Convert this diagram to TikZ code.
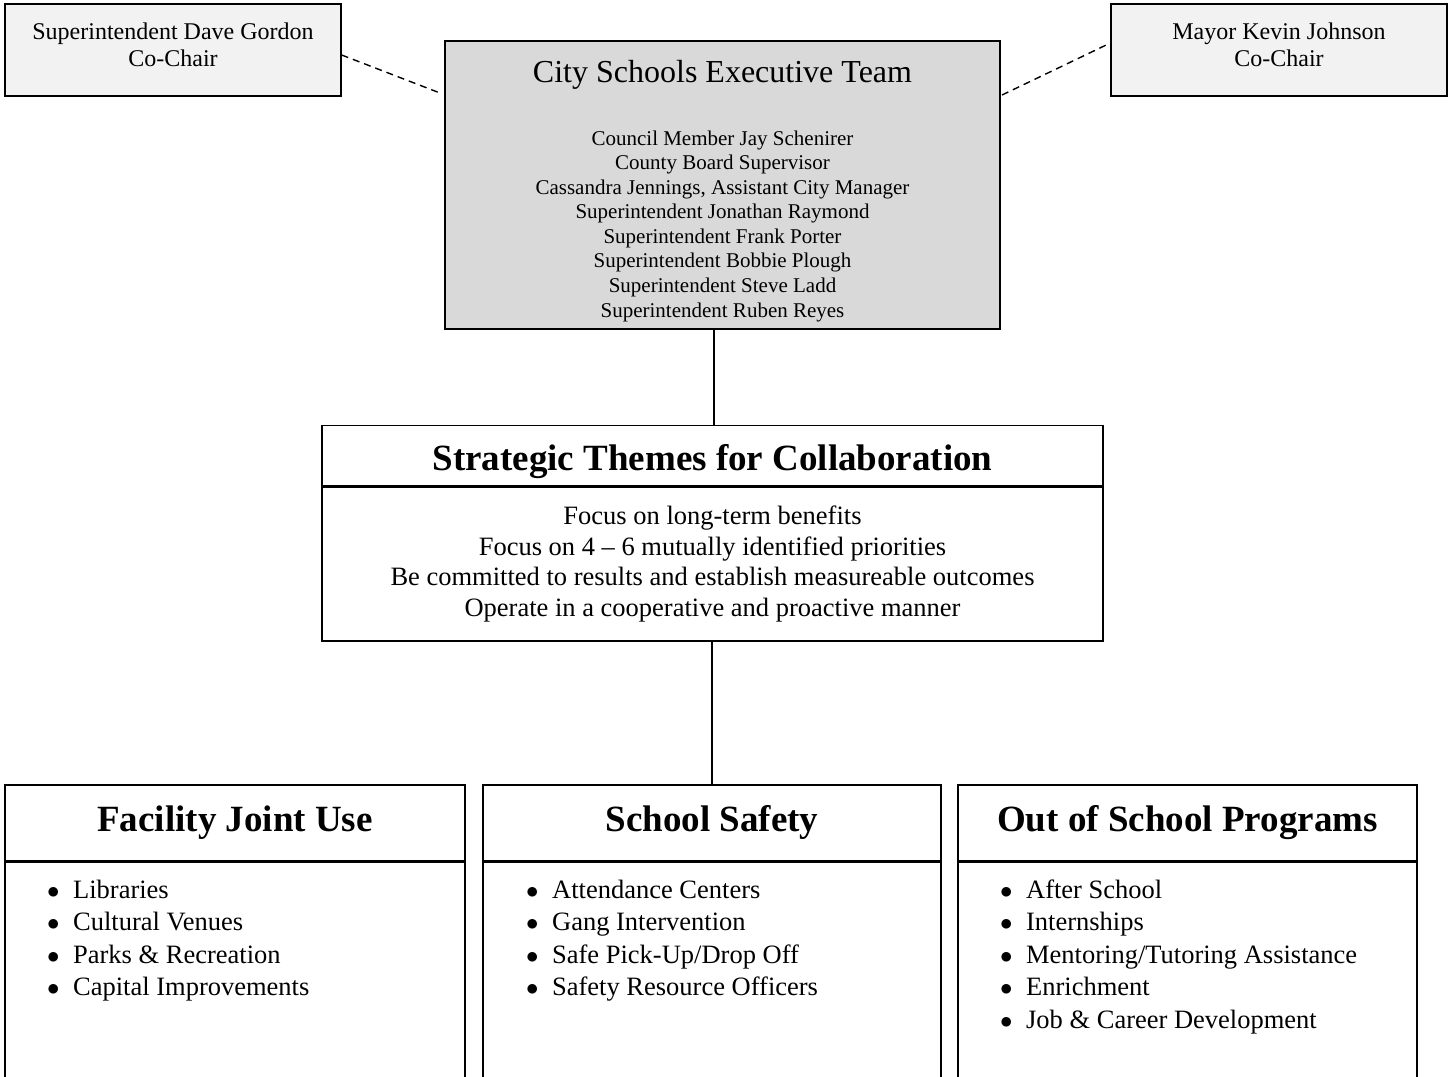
\documentclass[tikz,border=0pt]{standalone}
\usepackage{fontspec}
\setmainfont{Liberation Serif}
\usepackage{tikz}
\usetikzlibrary{
	positioning,
	calc,
	}

\tikzset{
	chairbox/.style={draw, line width=1.3pt, fill=black!5, minimum width=336pt, minimum height=92pt,
		align=center, font=\fontsize{24}{27}\selectfont, text depth=11pt},
	teambox/.style={draw, line width=1.4pt, fill=black!15, minimum width=555pt, minimum height=288pt},
	headbox/.style={draw, line width=1.4pt, font=\bfseries\fontsize{37}{42}\selectfont, text height=25pt, text depth=8pt},
	bodybox/.style={draw, line width=1.4pt},
	itemtext/.style={anchor=base west, inner sep=0pt, font=\fontsize{26.5}{32.5}\selectfont},
	link/.style={line width=1.5pt},
	dashlink/.style={line width=1.4pt, dash pattern=on 7pt off 5pt},
}

\begin{document}
\begin{tikzpicture}[x=1pt, y=-1pt]
		\useasboundingbox (0,0) rectangle (1453,1076);
		\clip (0,0) rectangle (1453,1076);
		% co-chairs
		\node[chairbox] (chairLeft) at (173,50) {Superintendent Dave Gordon\\Co-Chair};
		\node[chairbox] (chairRight) at (1279,50) {Mayor Kevin Johnson\\Co-Chair};
		% executive team
		\node[teambox] (exec) at (722.5,185) {};
		\node[anchor=base, inner sep=0pt, font=\fontsize{32}{38}\selectfont] (execTitle) at (722.5,82) {City Schools Executive Team};
		\node[inner sep=0pt, align=center, font=\fontsize{21}{24.57}\selectfont] (execMembers) at (722.5,226) {Council Member Jay Schenirer\\
			County Board Supervisor\\
			Cassandra Jennings, Assistant City Manager\\
			Superintendent Jonathan Raymond\\
			Superintendent Frank Porter\\
			Superintendent Bobbie Plough\\
			Superintendent Steve Ladd\\
			Superintendent Ruben Reyes};
		\coordinate (leftEnd) at (440,93);
		\coordinate (rightEnd) at (1002,95);
		\draw[dashlink] ([yshift=-5pt]chairLeft.east) -- (leftEnd);
		\draw[dashlink] (rightEnd) -- ([yshift=7pt]chairRight.west);
		% strategic themes
		\node[headbox, minimum width=781pt, minimum height=60pt, text height=30pt, text depth=0pt] (stratHead) at (712.5,455.5) {Strategic Themes for Collaboration};
		\node[bodybox, minimum width=781pt, minimum height=154pt, anchor=north, align=center,
			font=\fontsize{26.5}{30.6}\selectfont] (stratBody) at (stratHead.south) {Focus on long-term benefits\\
			Focus on 4 – 6 mutually identified priorities\\
			Be committed to results and establish measureable outcomes\\
			Operate in a cooperative and proactive manner};
		\draw[link] ([xshift=1.5pt]stratHead.north) -- ([xshift=1.5pt]stratHead.north |- exec.south);
		% focus areas
		\node[headbox, minimum width=460pt, minimum height=76pt] (facHead) at (235,823) {Facility Joint Use};
		\node[headbox, minimum width=458pt, minimum height=76pt] (safHead) at (712,823) {School Safety};
		\node[headbox, minimum width=459pt, minimum height=76pt] (oosHead) at (1187.5,823) {Out of School Programs};
		\node[bodybox, minimum width=460pt, minimum height=260pt, anchor=north] (facBody) at (facHead.south) {};
		\node[bodybox, minimum width=458pt, minimum height=260pt, anchor=north] (safBody) at (safHead.south) {};
		\node[bodybox, minimum width=459pt, minimum height=260pt, anchor=north] (oosBody) at (oosHead.south) {};
		\draw[link] (safHead.north |- stratBody.south) -- (safHead.north);
		\foreach \txt [count=\i] in {Libraries, Cultural Venues, Parks \& Recreation, Capital Improvements}
			\node[itemtext] (fac-\i) at (47,{898+32.5*(\i-1)}) {$\bullet$\hspace{13.5pt}\txt};
		\foreach \txt [count=\i] in {Attendance Centers, Gang Intervention, Safe Pick-Up/Drop Off, Safety Resource Officers}
			\node[itemtext] (saf-\i) at (526,{898+32.5*(\i-1)}) {$\bullet$\hspace{13.5pt}\txt};
		\foreach \txt [count=\i] in {After School, Internships, Mentoring/Tutoring Assistance, Enrichment, Job \& Career Development}
			\node[itemtext] (oos-\i) at (1000,{898+32.5*(\i-1)}) {$\bullet$\hspace{13.5pt}\txt};
	\end{tikzpicture}
\end{document}
